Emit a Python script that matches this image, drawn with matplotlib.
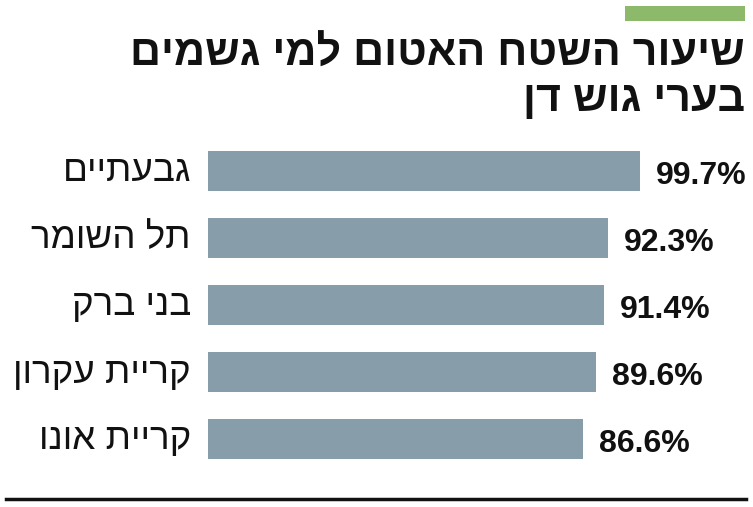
import matplotlib.pyplot as plt
from matplotlib.patches import Rectangle
from matplotlib.lines import Line2D

plt.rcParams['font.family'] = ['Liberation Sans Narrow', 'Liberation Sans', 'DejaVu Sans']

# data
cities = ['גבעתיים', 'תל השומר', 'בני ברק', 'קריית עקרון', 'קריית אונו']
values = [99.7, 92.3, 91.4, 89.6, 86.6]
title_lines = ['שיעור השטח האטום למי גשמים', 'בערי גוש דן']

bar_color = '#879daa'
W, H = 753, 507


def rtl(s):
    # matplotlib has no bidi support, so flip Hebrew strings by hand
    return s[::-1]


fig = plt.figure(figsize=(W / 100, H / 100), dpi=100)

# axes placed so bars start at x=208px and 100% is ~433px wide
left = 208 / W
width = 433.3 / W
top_px, bot_px = 137.5, 472.5
ax = fig.add_axes([left, 1 - bot_px / H, width, (bot_px - top_px) / H])
ax.barh(range(len(values)), values, height=0.61, color=bar_color)
ax.set_xlim(0, 100)
ax.set_ylim(len(values) - 0.5, -0.5)
ax.axis('off')

for i, (c, v) in enumerate(zip(cities, values)):
    ax.annotate(f'{v}%', xy=(v, i), xytext=(16, -5), textcoords='offset pixels',
                ha='left', va='center', fontsize=23, fontweight='bold',
                color='#111111', annotation_clip=False)
    ax.annotate(rtl(c), xy=(0, i), xytext=(-17, -1), textcoords='offset pixels',
                ha='right', va='center', fontsize=26.5, color='#111111',
                annotation_clip=False)

# title, right aligned
fig.text(745 / W, 1 - 55 / H, rtl(title_lines[0]), ha='right', va='center',
         fontsize=31, fontweight='bold', color='#111111')
fig.text(745 / W, 1 - 100 / H, rtl(title_lines[1]), ha='right', va='center',
         fontsize=31, fontweight='bold', color='#111111')

# green accent and bottom rule
fig.add_artist(Rectangle((625 / W, 1 - 21 / H), 120 / W, 15 / H,
                         transform=fig.transFigure, color='#8dba6a', lw=0))
fig.add_artist(Line2D([6 / W, 746 / W], [1 - 499 / H, 1 - 499 / H],
                      transform=fig.transFigure, color='#111111', lw=2.5))

fig.savefig('out.png', dpi=100)
